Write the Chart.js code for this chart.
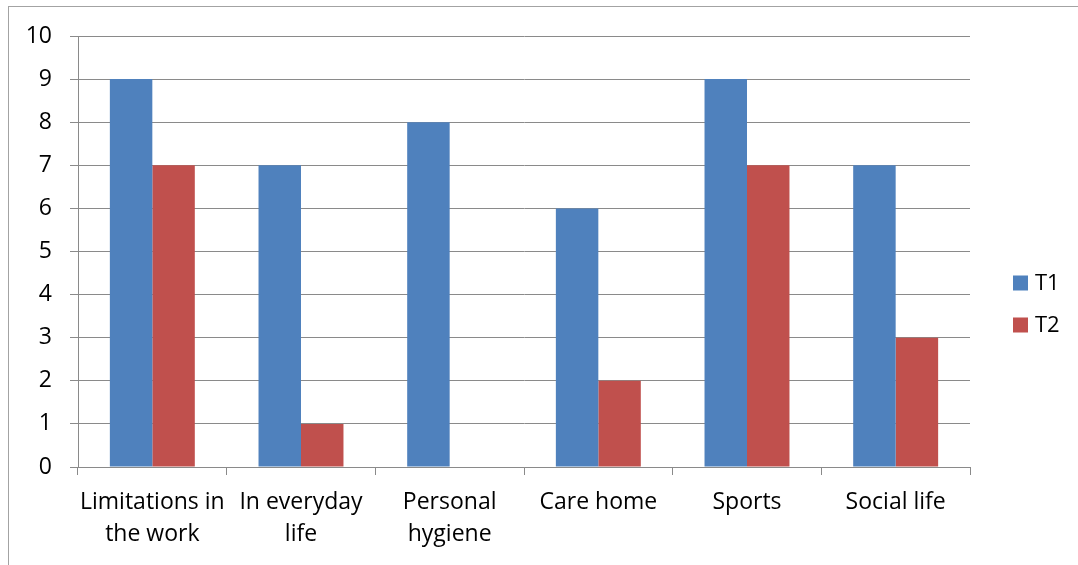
<!DOCTYPE html>
<html>
<head>
<meta charset="utf-8">
<title>T1 / T2</title>
<script src="https://cdn.jsdelivr.net/npm/chart.js@4/dist/chart.umd.min.js"></script>
<style>
  html, body { margin: 0; padding: 0; background: #fff; overflow: hidden; }
  body { width: 1078px; height: 565px; position: relative; }
  .frame {
    position: absolute; left: 8px; top: 6px; width: 1200px; height: 700px;
    border: 1px solid #a3a3a3; box-sizing: border-box;
  }
  .wrap { position: absolute; left: 0; top: 0; width: 1078px; height: 572px; }
</style>
</head>
<body>
<div class="frame"></div>
<div class="wrap"><canvas id="chart"></canvas></div>
<script>
/* Grouped bars, two time points per area */

const categories = [
  ['Limitations in', 'the work'],
  ['In everyday', 'life'],
  ['Personal', 'hygiene'],
  'Care home',
  'Sports',
  'Social life',
];
const t1Values = [9, 7, 8, 6, 9, 7];
const t2Values = [7, 1, 0, 2, 7, 3];
const yTicks = [0, 1, 2, 3, 4, 5, 6, 7, 8, 9, 10];

const FONT = '"Open Sans", Lato, sans-serif';
const GRID = '#8a8a8a';

// legend drawn to the right of the plot, items stacked vertically
const sideLegend = {
  id: 'sideLegend',
  afterDraw(chart) {
    const { ctx, chartArea } = chart;
    const x = chartArea.right + 43;
    const midY = 304;
    const step = 42;
    const sets = chart.data.datasets;
    ctx.save();
    ctx.font = '22px ' + FONT;
    ctx.textBaseline = 'middle';
    ctx.textAlign = 'left';
    sets.forEach((ds, i) => {
      const y = midY + (i - (sets.length - 1) / 2) * step;
      ctx.fillStyle = ds.backgroundColor;
      ctx.fillRect(x, y - 7.5, 15, 15);
      ctx.fillStyle = '#000';
      ctx.fillText(ds.label, x + 22, y + 1);
    });
    ctx.restore();
  },
};

function init() {
  const ctx = document.getElementById('chart');
  new Chart(ctx, {
    type: 'bar',
    data: {
      labels: categories,
      datasets: [
        { label: 'T1', data: t1Values, backgroundColor: '#4f81bd' },
        { label: 'T2', data: t2Values, backgroundColor: '#c0504d' },
      ],
    },
    options: {
      responsive: true,
      maintainAspectRatio: false,
      animation: false,
      layout: { padding: { top: 36, right: 108, bottom: 0, left: 0 } },
      datasets: {
        bar: { categoryPercentage: 2 / 3.5, barPercentage: 1 },
      },
      scales: {
        x: {
          grid: { offset: true, drawOnChartArea: false, color: GRID, tickLength: 8 },
          border: { color: GRID },
          ticks: { color: '#000', font: { family: FONT, size: 23, lineHeight: 1.4 }, padding: 11, maxRotation: 0, autoSkip: false },
          afterFit: (s) => { s.height = 105; },
        },
        y: {
          min: 0,
          max: yTicks[yTicks.length - 1],
          afterBuildTicks: (s) => { s.ticks = yTicks.map((v) => ({ value: v })); },
          grid: { color: GRID, tickLength: 8 },
          border: { color: GRID },
          ticks: { color: '#000', font: { family: FONT, size: 23 }, padding: 18 },
          afterFit: (s) => { s.width = 78; },
        },
      },
      plugins: {
        legend: { display: false },
        tooltip: { enabled: false },
      },
    },
    plugins: [sideLegend],
  });
}

document.addEventListener('DOMContentLoaded', init);
</script>
</body>
</html>
